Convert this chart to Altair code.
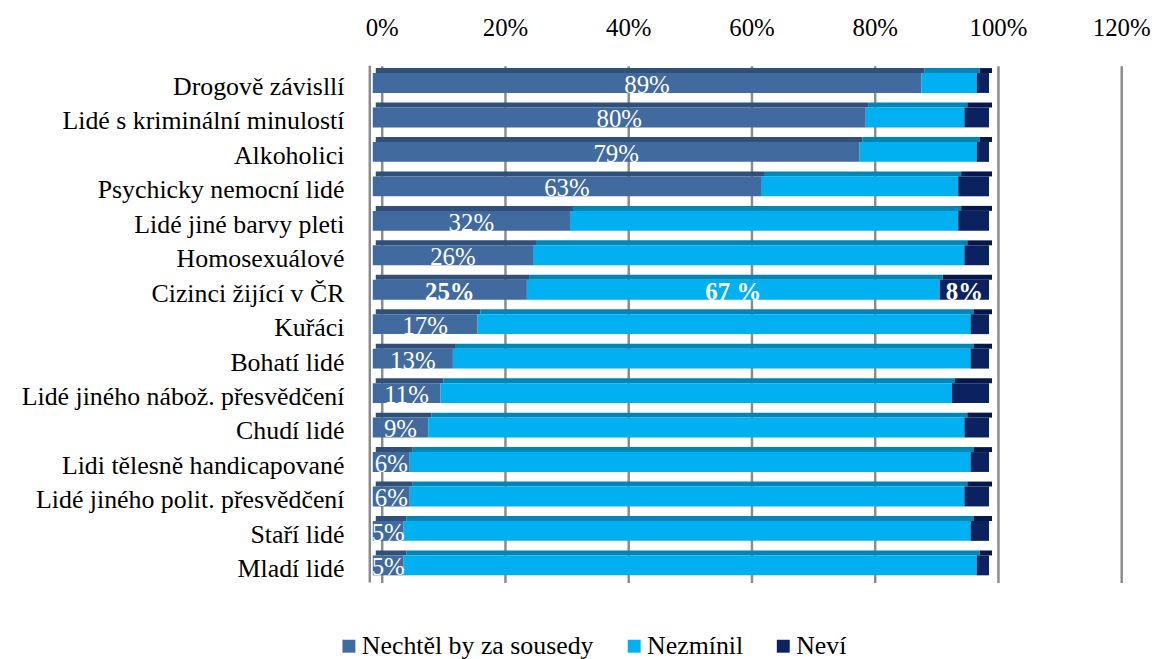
import altair as alt
import pandas as pd

categories = [
    "Drogově závisllí",
    "Lidé s kriminální minulostí",
    "Alkoholici",
    "Psychicky nemocní lidé",
    "Lidé jiné barvy pleti",
    "Homosexuálové ",
    "Cizinci žijící v ČR",
    "Kuřáci ",
    "Bohatí lidé",
    "Lidé jiného nábož. přesvědčení",
    "Chudí lidé",
    "Lidi tělesně handicapované",
    "Lidé jiného polit. přesvědčení",
    "Staří lidé",
    "Mladí lidé",
]
series = ["Nechtěl by za sousedy", "Nezmínil", "Neví"]
nechtel = [89, 80, 79, 63, 32, 26, 25, 17, 13, 11, 9, 6, 6, 5, 5]
nezminil = [9, 16, 19, 32, 63, 70, 67, 80, 84, 83, 87, 91, 90, 92, 93]
nevi = [2, 4, 2, 5, 5, 4, 8, 3, 3, 6, 4, 3, 4, 3, 2]
highlight_category = "Cizinci žijící v ČR"
highlight_labels = ["25%", "67 %", "8%"]
x_ticks = [0, 20, 40, 60, 80, 100, 120]

face_colors = ["#416A9E", "#00B0F0", "#0A2260"]
top_colors = ["#30507A", "#0086B6", "#061849"]
FONT = "Times New Roman, Liberation Serif, serif"

rows = []
for i, c in enumerate(categories):
    vals = [nechtel[i], nezminil[i], nevi[i]]
    start = 0
    for j, s in enumerate(series):
        rows.append({"cat": c, "series": s, "order": j, "start": start,
                     "end": start + vals[j], "mid": start + vals[j] / 2,
                     "val": vals[j]})
        start += vals[j]
df = pd.DataFrame(rows)

lab_rows = []
for r in rows:
    if r["cat"] == highlight_category:
        lab_rows.append({"cat": r["cat"], "mid": r["mid"],
                         "label": highlight_labels[r["order"]], "bold": True})
    elif r["order"] == 0:
        lab_rows.append({"cat": r["cat"], "mid": r["mid"],
                         "label": f"{r['val']}%", "bold": False})
labels = pd.DataFrame(lab_rows)

x_axis = alt.Axis(orient="top", values=x_ticks, labelExpr="datum.value + '%'",
                  domain=False, ticks=False, grid=True, gridColor="#8c8c8c",
                  gridWidth=2.5, labelFont=FONT, labelFontSize=25,
                  labelColor="black", labelPadding=25, labelFlush=False,
                  title=None)
x_scale = alt.Scale(domain=[0, 120], nice=False, zero=True)
y_enc = alt.Y("cat:N", sort=categories,
              scale=alt.Scale(paddingInner=0, paddingOuter=0),
              axis=alt.Axis(title=None, domain=False, ticks=False,
                            labelFont=FONT, labelFontSize=26,
                            labelColor="black", labelPadding=38,
                            labelOffset=4, labelLimit=0))

faces = alt.Chart(df).mark_bar(size=20, xOffset=-9, x2Offset=-9).encode(
    x=alt.X("start:Q", scale=x_scale, axis=x_axis),
    x2="end:Q",
    y=y_enc,
    color=alt.Color("series:N", sort=series,
                    scale=alt.Scale(domain=series, range=face_colors),
                    legend=alt.Legend(title=None, orient="none", legendX=-46,
                                      legendY=571, direction="horizontal",
                                      symbolType="square", symbolSize=169,
                                      symbolStrokeWidth=0, labelFont=FONT,
                                      labelFontSize=26, labelColor="black",
                                      labelLimit=0, labelOffset=0,
                                      columnPadding=27)),
    order=alt.Order("order:Q"),
)

tops = alt.Chart(df).mark_bar(size=5, yOffset=-12.5, xOffset=-6, x2Offset=-6).encode(
    x=alt.X("start:Q", scale=x_scale, axis=x_axis),
    x2="end:Q",
    y=y_enc,
    color=alt.Color("series:N", scale=alt.Scale(domain=series, range=top_colors),
                    legend=None),
)

wall = alt.Chart(pd.DataFrame({"v": [0]})).mark_rule(
    color="#8c8c8c", strokeWidth=2.5, xOffset=-12).encode(
    x=alt.X("v:Q", scale=x_scale, axis=x_axis))

text_normal = alt.Chart(labels[~labels["bold"]]).mark_text(
    color="white", font=FONT, fontSize=25, xOffset=-9, dy=2,
    baseline="middle").encode(
    x=alt.X("mid:Q", scale=x_scale, axis=x_axis), y=y_enc, text="label:N")

text_bold = alt.Chart(labels[labels["bold"]]).mark_text(
    color="white", font=FONT, fontSize=25, fontWeight="bold", xOffset=-9,
    dy=2, baseline="middle").encode(
    x=alt.X("mid:Q", scale=x_scale, axis=x_axis), y=y_enc, text="label:N")

chart = alt.layer(wall, tops, faces, text_normal, text_bold).resolve_scale(
    color="independent"
).properties(
    width=744, height=520,
    padding={"left": 13, "top": 6, "right": 5, "bottom": 40},
    background="white",
).configure_view(stroke=None)

chart.save("out.html", embed_options={"renderer": "svg", "actions": False})
